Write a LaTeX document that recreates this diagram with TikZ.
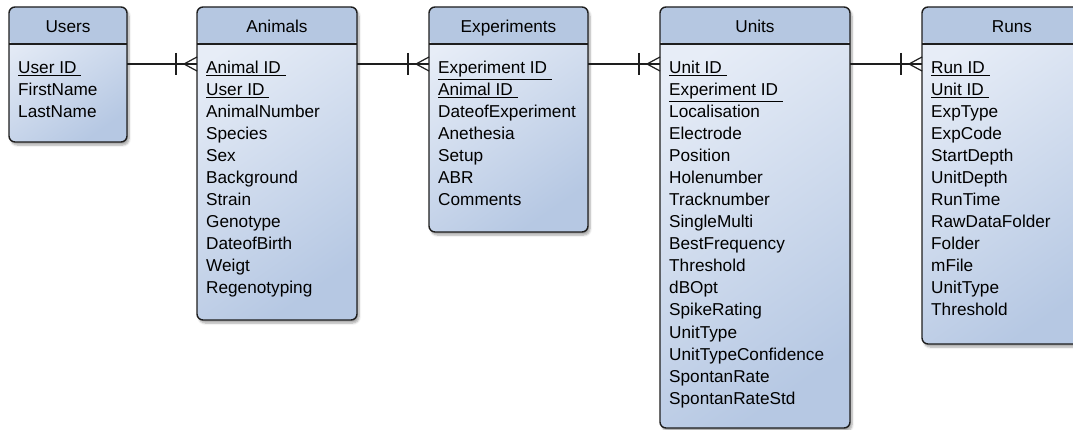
\documentclass[tikz,border=0pt]{standalone}
\usepackage{fontspec}
\setmainfont{Liberation Sans}
\usetikzlibrary{shadows.blur}

\definecolor{headblue}{RGB}{181,199,225}
\definecolor{bodylight}{RGB}{231,237,247}
\definecolor{bodydark}{RGB}{182,200,227}
\definecolor{edge}{RGB}{30,30,30}

\newcommand{\erfont}{\fontsize{17.2}{20}\selectfont}
\newcommand{\pk}[1]{\underline{#1\ }}

\tikzset{
  table/.style={anchor=north west, draw=edge, line width=1.4pt, rounded corners=6pt,
    outer sep=0pt, inner sep=0pt,
    top color=bodylight, bottom color=bodydark, shading angle=35,
    blur shadow={shadow xshift=2pt, shadow yshift=-3pt, shadow blur steps=6, shadow opacity=35},
    path picture={
      \fill[headblue] (path picture bounding box.north west) rectangle ([yshift=-37pt]path picture bounding box.north east);
      \draw[edge, line width=1.4pt] ([yshift=-37pt]path picture bounding box.north west) -- ([yshift=-37pt]path picture bounding box.north east);
    }},
  title/.style={anchor=base, inner sep=0pt, font=\erfont},
  field/.style={anchor=base west, inner sep=0pt, font=\erfont},
  rel/.style={draw=edge, line width=1.2pt},
  crowfoot/.pic={
    \draw[rel] (-21,-11) -- (-21,11);
    \draw[rel] (0,-7) -- (-13,0) -- (0,7);
  }
}

\begin{document}
\begin{tikzpicture}[x=1pt, y=-1pt]
  \useasboundingbox (0,0) rectangle (1073,430);
  \clip (0,0) rectangle (1073,430);

  % tables
  \node[table, minimum width=118pt, minimum height=135pt] (users) at (9,7) {};
  \node[table, minimum width=160pt, minimum height=313pt] (animals) at (197,7) {};
  \node[table, minimum width=159pt, minimum height=225pt] (experiments) at (429,7) {};
  \node[table, minimum width=190pt, minimum height=421pt] (units) at (660,7) {};
  \node[table, minimum width=180pt, minimum height=337pt] (runs) at (922,7) {};

  % headers
  \node[title] (users-t) at ([yshift=-26pt]users.north) {Users};
  \node[title] (animals-t) at ([yshift=-26pt]animals.north) {Animals};
  \node[title] (experiments-t) at ([yshift=-26pt]experiments.north) {Experiments};
  \node[title] (units-t) at ([yshift=-26pt]units.north) {Units};
  \node[title] (runs-t) at ([yshift=-26pt]runs.north) {Runs};

  % fields
  \foreach \f [count=\i] in {\pk{User ID}, FirstName, LastName}
    \node[field] (users-\i) at ([xshift=9pt, yshift={-67pt-22pt*(\i-1)}]users.north west) {\f};
  \foreach \f [count=\i] in {\pk{Animal ID}, \pk{User ID}, AnimalNumber, Species, Sex, Background, Strain, Genotype, DateofBirth, Weigt, Regenotyping}
    \node[field] (animals-\i) at ([xshift=9pt, yshift={-67pt-22pt*(\i-1)}]animals.north west) {\f};
  \foreach \f [count=\i] in {\pk{Experiment ID}, \pk{Animal ID}, DateofExperiment, Anethesia, Setup, ABR, Comments}
    \node[field] (experiments-\i) at ([xshift=9pt, yshift={-67pt-22pt*(\i-1)}]experiments.north west) {\f};
  \foreach \f [count=\i] in {\pk{Unit ID}, \pk{Experiment ID}, Localisation, Electrode, Position, Holenumber, Tracknumber, SingleMulti, BestFrequency, Threshold, dBOpt, SpikeRating, UnitType, UnitTypeConfidence, SpontanRate, SpontanRateStd}
    \node[field] (units-\i) at ([xshift=9pt, yshift={-67pt-22pt*(\i-1)}]units.north west) {\f};
  \foreach \f [count=\i] in {\pk{Run ID}, \pk{Unit ID}, ExpType, ExpCode, StartDepth, UnitDepth, RunTime, RawDataFolder, Folder, mFile, UnitType, Threshold}
    \node[field] (runs-\i) at ([xshift=9pt, yshift={-67pt-22pt*(\i-1)}]runs.north west) {\f};

  % one-to-many relations
  \draw[rel] ([yshift=-57pt]users.north east) -- ([yshift=-57pt]animals.north west) pic {crowfoot};
  \draw[rel] ([yshift=-57pt]animals.north east) -- ([yshift=-57pt]experiments.north west) pic {crowfoot};
  \draw[rel] ([yshift=-57pt]experiments.north east) -- ([yshift=-57pt]units.north west) pic {crowfoot};
  \draw[rel] ([yshift=-57pt]units.north east) -- ([yshift=-57pt]runs.north west) pic {crowfoot};
\end{tikzpicture}
\end{document}
